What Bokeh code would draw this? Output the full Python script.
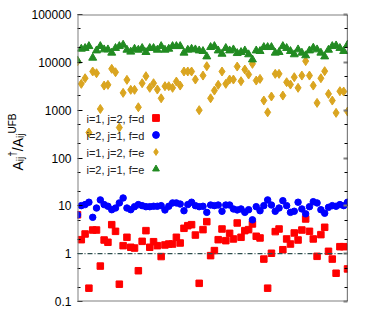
import math
from bokeh.plotting import figure
from bokeh.layouts import row
from bokeh.models import (Range1d, FixedTicker, LogAxis, Span, Label, Legend,
                          LegendItem, ColumnDataSource)
from bokeh.embed import file_html
from bokeh.resources import INLINE

# ---------------- data ----------------
index = list(range(72))

red_ij12_d = [6.5, 1.96, 2.58, 0.19, 3.12, 3.12, 0.55, 1.93, 1.73, 4.04,
              2.93, 0.23, 1.47, 2.20, 1.36, 1.31, 0.44, 1.81, 3.03, 1.36,
              1.78, 1.47, 0.87, 1.52, 1.59, 1.59, 2.20, 1.67, 3.39, 3.85,
              4.04, 2.45, 0.24, 3.18, 4.67, 0.91, 1.16, 1.96, 3.28, 1.87,
              2.66, 2.03, 4.38, 2.20, 3.03, 3.18, 4.18, 2.31, 2.13, 0.77,
              0.19, 1.02, 2.89, 3.28, 1.21, 2.03, 1.59, 2.71, 1.93, 3.12,
              5.31, 2.93, 2.03, 0.88, 2.50, 3.56, 1.12, 0.77, 0.39, 1.40,
              1.40, 0.48]

blue_ij21_d = [6.45, 10.1, 10.6, 11.9, 5.75, 9.0, 13.3, 10.6, 9.8, 8.3,
               9.0, 11.5, 14.6, 9.0, 8.3, 9.6, 10.6, 10.1, 9.6, 9.6,
               9.8, 9.8, 10.1, 8.2, 9.8, 11.5, 11.5, 10.9, 7.9, 10.6,
               11.9, 10.1, 9.6, 9.8, 7.3, 10.4, 10.1, 10.4, 7.7, 10.4,
               10.4, 8.6, 8.2, 8.6, 7.3, 8.3, 5.1, 9.6, 7.9, 10.1,
               13.3, 10.4, 7.7, 9.0, 12.8, 10.1, 7.3, 7.7, 11.9, 8.6,
               6.8, 9.6, 12.2, 11.5, 8.3, 7.0, 9.3, 10.1, 9.8, 10.6,
               10.1, 11.9]

gold_ij12_e = [10500, 3550, 4650, 340, 6430, 5920, 1060, 3270, 3380, 7310,
               6210, 433, 2300, 4300, 2660, 2660, 1150, 3660, 5130, 2930,
               3660, 2700, 1770, 3170, 3170, 2930, 3960, 3270, 6430, 6430,
               6430, 4370, 1000, 5290, 8300, 1770, 2570, 3380, 6430, 3550,
               4370, 4370, 8170, 4030, 7070, 5560, 9290, 4160, 4510, 1590,
               900, 1930, 5740, 5740, 2020, 3840, 3430, 4890, 2930, 5290,
               10600, 5290, 3270, 1420, 4650, 6530, 2190, 1590, 878, 2490,
               2450, 935]

green_ij21_e = [10900, 19100, 19800, 21700, 12400, 17600, 21700, 18500, 18500, 15800,
                19800, 21700, 23200, 18200, 16600, 19100, 18200, 19800, 16300, 19800,
                19800, 18200, 21700, 18200, 19100, 21700, 21700, 21700, 15800, 18200,
                19100, 18500, 17600, 17100, 13200, 20700, 21700, 17600, 15000, 19800,
                17600, 18500, 15500, 16300, 17600, 14600, 11400, 17600, 17100, 20700,
                20700, 20700, 15800, 16300, 21700, 19800, 17100, 14600, 18500, 15800,
                13900, 17600, 20100, 18500, 15800, 13200, 18200, 21700, 22400, 19800,
                17100, 23200]

series_labels = ["i=1, j=2, f=d", "i=2, j=1, f=d", "i=1, j=2, f=e", "i=2, j=1, f=e"]
y_major = [0.1, 1, 10, 100, 1000, 10000, 100000]
y_minor = [0.2, 0.5, 2, 5, 20, 50, 200, 500, 2000, 5000, 20000, 50000]
y_tick_labels = ["0.1", "1", "10", "100", "1000", "10000", "100000"]
ref_level = 1.0

FONT = "Liberation Sans"
GRAY = "#808080"
TITLE_W = 28

# ---------------- main figure ----------------
p = figure(width=369 - TITLE_W, height=316,
           x_range=Range1d(0, 71), y_range=Range1d(0.1, 100000),
           y_axis_type="log", x_axis_location=None,
           output_backend="svg", toolbar_location=None,
           min_border_left=75 - TITLE_W, min_border_right=22,
           min_border_top=14, min_border_bottom=15)
p.outline_line_color = None
p.background_fill_color = "white"
p.border_fill_color = "white"
p.grid.visible = False

ax = p.yaxis[0]
ax.ticker = FixedTicker(ticks=y_major, minor_ticks=y_minor)
ax.major_label_overrides = {v: s for v, s in zip(y_major, y_tick_labels)}
ax.axis_line_color = None
ax.major_tick_in = 5
ax.major_tick_out = 0
ax.minor_tick_in = 3
ax.minor_tick_out = 0
ax.major_tick_line_color = "black"
ax.minor_tick_line_color = "black"
ax.major_label_text_font = FONT
ax.major_label_text_font_size = "12px"
ax.major_label_text_color = "black"
ax.major_label_standoff = 6

rax = LogAxis(ticker=FixedTicker(ticks=y_major, minor_ticks=y_minor))
rax.axis_line_color = None
rax.major_tick_in = 4
rax.major_tick_out = 0
rax.minor_tick_in = 3
rax.minor_tick_out = 0
rax.major_tick_line_color = GRAY
rax.major_tick_line_width = 2
rax.minor_tick_line_color = "black"
rax.major_label_text_alpha = 0
rax.major_label_text_font_size = "6px"
rax.major_label_standoff = 0
p.add_layout(rax, "right")

# borders (gnuplot style: grey frame, black right edge)
p.add_layout(Span(location=100000, dimension="width", line_color=GRAY, line_width=2))
p.add_layout(Span(location=0.1, dimension="width", line_color=GRAY, line_width=2))
p.add_layout(Span(location=0, dimension="height", line_color=GRAY, line_width=2))
p.add_layout(Span(location=71, dimension="height", line_color="black", line_width=1.2))

# reference line
p.add_layout(Span(location=ref_level, dimension="width", line_color="#2F4F4F",
                  line_width=1.3, line_dash="5 2 1 2"))

src = ColumnDataSource(dict(x=index, r=red_ij12_d, b=blue_ij21_d,
                            g=gold_ij12_e, t=green_ij21_e))
r1 = p.scatter("x", "r", source=src, marker="square", size=6.5,
               fill_color="#FF0000", line_color="#FF0000")
r2 = p.scatter("x", "b", source=src, marker="circle", size=6.5,
               fill_color="#0000FF", line_color="#0000FF")
r3 = p.scatter("x", "g", source=src, marker="diamond", size=9,
               fill_color="#DAA520", line_color="#DAA520")
r4 = p.scatter("x", "t", source=src, marker="triangle", size=8,
               fill_color="#228B22", line_color="#228B22")

# legend: text on the left, symbol on the right (gnuplot style)
legend = Legend(items=[LegendItem(label="\u00a0", renderers=[r]) for r in (r1, r2, r3, r4)],
                location=(70, 124), orientation="vertical",
                glyph_width=17, glyph_height=17, label_width=1, label_height=17,
                label_standoff=0, spacing=0, padding=0, margin=0,
                label_text_font_size="4px",
                border_line_alpha=0, background_fill_alpha=0)
p.add_layout(legend, "center")

for k, txt in enumerate(series_labels):
    p.add_layout(Label(x=9, y=183 - 17 * k, x_units="screen", y_units="screen",
                       text=txt, text_font=FONT, text_font_size="11px",
                       text_color="#222222", text_baseline="middle", text_align="left"))

# ---------------- y axis title figure ----------------
t = figure(width=TITLE_W, height=316, x_range=Range1d(0, 1), y_range=Range1d(0, 1),
           output_backend="svg", toolbar_location=None,
           min_border_left=0, min_border_right=0, min_border_top=0, min_border_bottom=0)
t.axis.visible = False
t.grid.visible = False
t.outline_line_color = None
t.background_fill_color = "white"
t.border_fill_color = "white"

pieces = [("A", 14, 0), ("ij", 10, 3), ("\u2020", 10, -5), ("/", 14, 0),
          ("A", 14, 0), ("ij", 10, 3), ("UFB", 10, -5)]
adv = {"A": 0.667, "i": 0.222, "j": 0.222, "/": 0.278, "\u2020": 0.556,
       "U": 0.722, "F": 0.611, "B": 0.667}
ypos = 316 - 185.0
base_x = 17
for txt, fs, shift in pieces:
    t.add_layout(Label(x=base_x + shift, y=ypos, x_units="screen", y_units="screen",
                       text=txt, text_font=FONT, text_font_size=f"{fs}px",
                       text_color="black", angle=math.pi / 2,
                       text_align="left", text_baseline="alphabetic"))
    ypos += sum(adv[c] for c in txt) * fs

layout = row(t, p)
open("out.html", "w").write(file_html(layout, INLINE))
